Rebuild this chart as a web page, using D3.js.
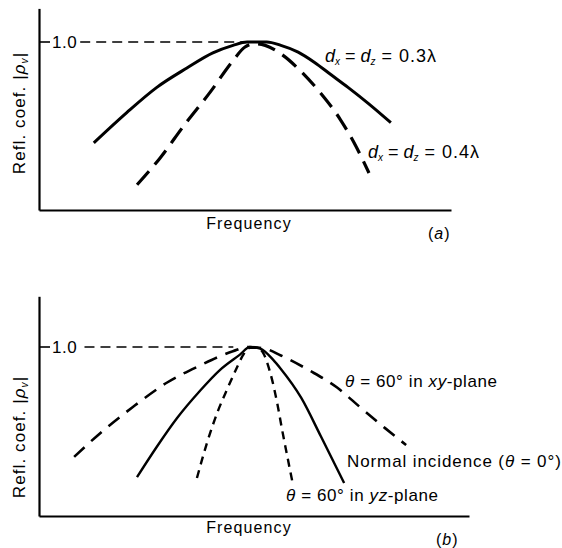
<!DOCTYPE html>
<html><head><meta charset="utf-8">
<script src="https://cdn.jsdelivr.net/npm/d3@7"></script>
<style>
html,body{margin:0;padding:0;background:#fff;}
svg{display:block;font-family:"Liberation Sans",Arial,Helvetica,sans-serif;}
</style></head>
<body>
<svg id="c" width="562" height="548"></svg>
<script>
// ---- Panel (a) data: frequency (arbitrary units) vs |rho_v|
const aSolidX = [1.33,2.13,2.86,3.59,4.22,4.71,5.05,5.53,5.87,6.29,6.68,7.09,7.50,7.99,8.54];
const aSolidY = [0.40,0.58,0.73,0.845,0.935,0.98,1.00,1.00,0.98,0.94,0.88,0.805,0.73,0.635,0.52];
const aDashX  = [2.38,2.94,3.54,4.15,4.68,5.00,5.24,5.49,5.87,6.34,6.82,7.31,7.67,8.01];
const aDashY  = [0.15,0.31,0.51,0.70,0.88,0.97,0.99,0.98,0.93,0.83,0.70,0.54,0.39,0.22];
const aRefX   = [1.0,5.0];
// ---- Panel (b) data
const bXyX   = [0.85,1.48,2.27,3.10,3.89,4.69,5.05,5.47,5.85,6.55,7.21,7.76,8.37,8.88];
const bXyY   = [0.35,0.49,0.645,0.79,0.89,0.975,1.00,0.99,0.95,0.86,0.76,0.645,0.52,0.42];
const bNormX = [2.37,2.85,3.34,3.89,4.38,4.86,5.10,5.35,5.66,5.85,6.34,6.82,7.38];
const bNormY = [0.23,0.41,0.58,0.74,0.865,0.955,1.00,0.99,0.925,0.87,0.70,0.47,0.195];
const bYzX   = [3.82,4.06,4.31,4.55,4.79,4.93,5.10,5.27,5.42,5.59,5.76,5.88,6.00,6.13];
const bYzY   = [0.225,0.43,0.61,0.75,0.88,0.95,0.995,0.995,0.965,0.85,0.67,0.51,0.36,0.20];
const bRefX  = [1.1,4.7];
const refY = 1.0;
const tickLabel = "1.0";
const xTitle = "Frequency";

const svg = d3.select("#c");
const zip = (xs, ys) => xs.map((x,i)=>[x, ys[i]]);

function panel(cfg){
  const x = d3.scaleLinear().domain(cfg.xDom).range(cfg.xRange);
  const y = d3.scaleLinear().domain(cfg.yDom).range(cfg.yRange);
  const g = svg.append("g");
  // axes
  g.append("g").attr("transform",`translate(0,${cfg.yRange[0]})`)
    .call(d3.axisBottom(x).tickValues([]).tickSizeOuter(0))
    .call(s=>s.select(".domain").attr("stroke","#000").attr("stroke-width",2.2));
  g.append("g").attr("transform",`translate(${cfg.xRange[0]},0)`)
    .call(d3.axisLeft(y).tickValues([]).tickSizeOuter(0))
    .call(s=>s.select(".domain").attr("stroke","#000").attr("stroke-width",2.2));
  // 1.0 tick & label
  g.append("line").attr("x1",x(cfg.xDom[0])).attr("x2",x(cfg.xDom[0])+11)
    .attr("y1",y(refY)).attr("y2",y(refY)).attr("stroke","#000").attr("stroke-width",1.6);
  g.append("text").attr("x",x(cfg.xDom[0])+13).attr("y",y(refY)+6)
    .attr("font-size",17).attr("letter-spacing",0.5).text(tickLabel);
  g.append("line").attr("x1",x(cfg.refX[0])).attr("x2",x(cfg.refX[1]))
    .attr("y1",y(refY)).attr("y2",y(refY)).attr("stroke","#000").attr("stroke-width",1.4)
    .attr("stroke-dasharray","10,6");
  // y title
  const yc = cfg.yTitleY;
  const t = g.append("text").attr("transform",`translate(25,${yc}) rotate(-90)`)
    .attr("text-anchor","middle").attr("font-size",17).attr("letter-spacing",1.1);
  t.append("tspan").text("Refl. coef. |");
  t.append("tspan").attr("font-style","italic").text("ρ");
  t.append("tspan").attr("font-size",10).attr("dy",3).attr("font-style","italic").text(cfg.sub);
  t.append("tspan").attr("dy",-3).text("|");
  // x title
  g.append("text").attr("x",249).attr("y",cfg.xTitleY).attr("text-anchor","middle")
    .attr("font-size",16).attr("letter-spacing",1.1).text(xTitle);
  // panel letter
  const pl = g.append("text").attr("x",cfg.letterX).attr("y",cfg.letterY).attr("font-size",16).attr("letter-spacing",1);
  pl.append("tspan").text("(");
  pl.append("tspan").attr("font-style","italic").text(cfg.letter);
  pl.append("tspan").text(")");
  // curves
  const line = d3.line().x(d=>x(d[0])).y(d=>y(d[1])).curve(d3.curveMonotoneX);
  cfg.curves.forEach(c=>{
    g.append("path").attr("d",line(c.data)).attr("fill","none").attr("stroke","#000")
      .attr("stroke-width",c.w).attr("stroke-dasharray",c.dash||null).attr("stroke-linecap","butt");
  });
  return {x,y,g};
}

const A = panel({
  xDom:[0,10], xRange:[39,451], yDom:[0,1.2], yRange:[210,8.4],
  refX:aRefX, yTitleY:113, xTitleY:229, sub:"v", letter:"a", letterX:428, letterY:239,
  curves:[
    {data:zip(aSolidX,aSolidY), w:3},
    {data:zip(aDashX,aDashY), w:3.2, dash:"18,9"}
  ]
});
const B = panel({
  xDom:[0,10.4], xRange:[39,469], yDom:[0,1.3], yRange:[516,296.3],
  refX:bRefX, yTitleY:437, xTitleY:533, sub:"v", letter:"b", letterX:436, letterY:545,
  curves:[
    {data:zip(bXyX,bXyY), w:2.6, dash:"14,9"},
    {data:zip(bNormX,bNormY), w:2.4},
    {data:zip(bYzX,bYzY), w:2.4, dash:"8,6"}
  ]
});

// annotations
function dLabel(x0,y0,val){
  const t = svg.append("text").attr("x",x0).attr("y",y0).attr("font-size",18);
  t.append("tspan").attr("font-style","italic").text("d");
  t.append("tspan").attr("font-size",10).attr("dy",3).attr("font-style","italic").text("x");
  t.append("tspan").attr("dy",-3).text(" = ");
  t.append("tspan").attr("font-style","italic").text("d");
  t.append("tspan").attr("font-size",10).attr("dy",3).attr("font-style","italic").text("z");
  t.append("tspan").attr("dy",-3).attr("letter-spacing",1).text(" = "+val+"λ");
}
dLabel(325,62,"0.3");
dLabel(368,158,"0.4");

function thetaLabel(x0,y0,deg,restItalic,tail){
  const t = svg.append("text").attr("x",x0).attr("y",y0).attr("font-size",17).attr("letter-spacing",0.6);
  t.append("tspan").attr("font-style","italic").text("θ");
  t.append("tspan").text(" = "+deg+"°  in ");
  t.append("tspan").attr("font-style","italic").text(restItalic);
  t.append("tspan").text(tail);
}
thetaLabel(345,387,"60","xy","-plane");
thetaLabel(286,501,"60","yz","-plane");
const ni = svg.append("text").attr("x",347).attr("y",467).attr("font-size",17).attr("letter-spacing",0.9);
ni.append("tspan").text("Normal incidence (");
ni.append("tspan").attr("font-style","italic").text("θ");
ni.append("tspan").text(" = 0°)");
</script>
</body></html>
